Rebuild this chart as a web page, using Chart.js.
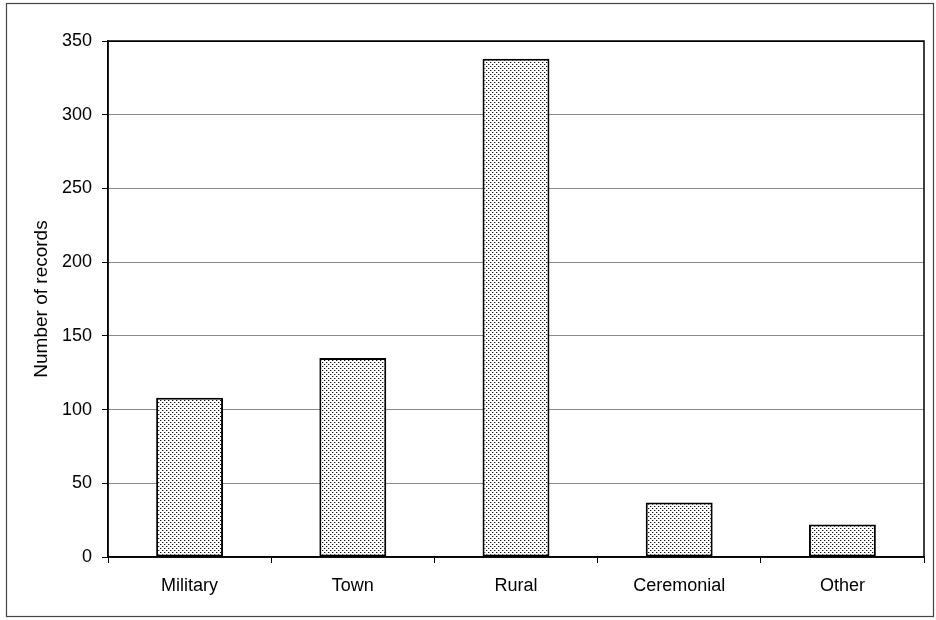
<!DOCTYPE html>
<html>
<head>
<meta charset="utf-8">
<script src="https://cdn.jsdelivr.net/npm/chart.js@4/dist/chart.umd.min.js"></script>
<style>
  html, body { margin: 0; padding: 0; background: #fff; }
  #wrap { position: relative; width: 936px; height: 620px; }
</style>
</head>
<body>
<div id="wrap"><canvas id="chart" width="936" height="620"></canvas></div>
<script>
// Data
const categories = ['Military', 'Town', 'Rural', 'Ceremonial', 'Other'];
const records = [108, 135, 338, 37, 22];
const yMin = 0;
const yMax = 350;
const yStep = 50;

const FONT = '"Liberation Sans", Arial, sans-serif';

/**
 * Stippled fill like the printed original
 */
function makeDotPattern() {
  const c = document.createElement('canvas');
  c.width = 4;
  c.height = 4;
  const g = c.getContext('2d');
  g.fillStyle = '#fff';
  g.fillRect(0, 0, 4, 4);
  g.fillStyle = '#111';
  g.fillRect(0, 0, 1, 1);
  g.fillRect(2, 2, 1, 1);
  g.fillStyle = '#bbb';
  g.fillRect(1, 0, 1, 1);
  g.fillRect(3, 2, 1, 1);
  return g.createPattern(c, 'repeat');
}

// Frame round the plot area and round the whole figure
const framePlugin = {
  id: 'frames',
  afterDraw(chart) {
    const { ctx, chartArea: a } = chart;
    ctx.save();
    ctx.strokeStyle = '#000';
    ctx.lineWidth = 1.5;
    ctx.strokeRect(a.left, a.top, a.right - a.left, a.bottom - a.top);
    ctx.strokeStyle = '#444';
    ctx.lineWidth = 1.2;
    ctx.strokeRect(6.5, 3.5, 927, 613);
    ctx.restore();
  }
};

const ctx = document.getElementById('chart').getContext('2d');
new Chart(ctx, {
  type: 'bar',
  data: {
    labels: categories,
    datasets: [{
      label: 'Number of records',
      data: records,
      backgroundColor: makeDotPattern(),
      borderColor: '#000',
      borderWidth: 2,
      borderSkipped: false,
      categoryPercentage: 1,
      barPercentage: 0.41,
    }],
  },
  options: {
    responsive: false,
    animation: false,
    layout: { padding: { left: 0, top: 41, right: 12, bottom: 0 } },
    plugins: {
      legend: { display: false },
      tooltip: { enabled: false },
    },
    scales: {
      x: {
        grid: {
          offset: true,
          drawOnChartArea: false,
          tickLength: 6,
          tickColor: '#000',
        },
        border: { color: '#000', width: 1.5 },
        ticks: {
          color: '#000',
          font: { family: FONT, size: 18 },
          padding: 12,
        },
        afterFit(scale) { scale.height = 63; },
      },
      y: {
        min: yMin,
        max: yMax,
        ticks: {
          stepSize: yStep,
          color: '#000',
          font: { family: FONT, size: 18 },
          padding: 10,
        },
        grid: {
          color: (c) => (c.tick && c.tick.value === yMax ? '#000' : '#8a8a8a'),
          tickColor: '#000',
          tickLength: 6,
        },
        border: { color: '#000', width: 1.5 },
        title: {
          display: true,
          text: 'Number of records',
          color: '#000',
          font: { family: FONT, size: 19 },
          padding: { top: 30, bottom: 0 },
        },
        afterFit(scale) { scale.width = 108; },
      },
    },
  },
  plugins: [framePlugin],
});
</script>
</body>
</html>
